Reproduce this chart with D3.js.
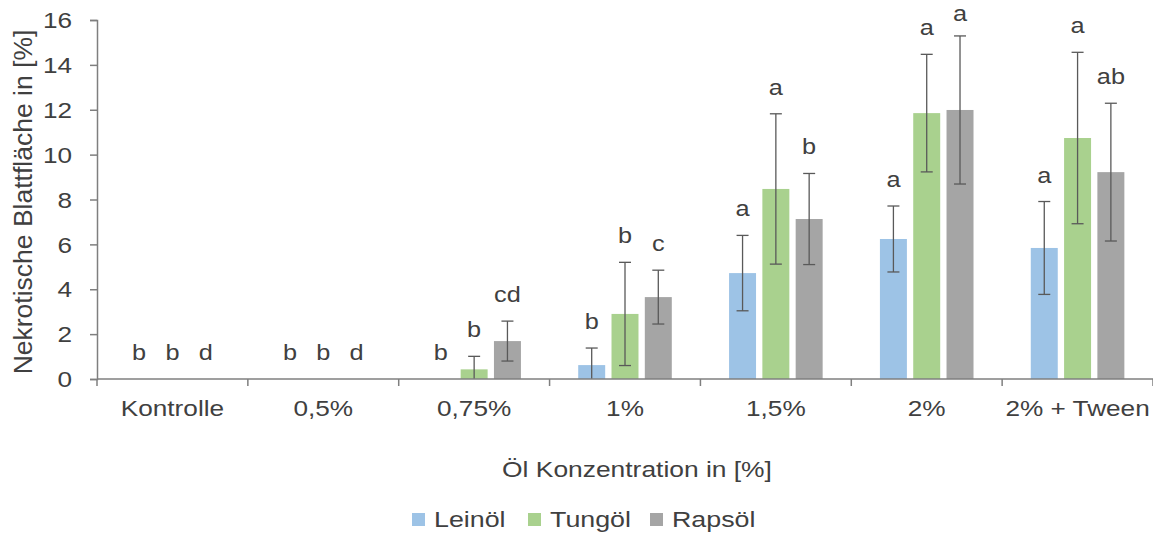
<!DOCTYPE html>
<html>
<head>
<meta charset="utf-8">
<script src="https://cdn.jsdelivr.net/npm/d3@7"></script>
<style>
  html, body { margin: 0; padding: 0; background: #fff; }
  svg { display: block; font-family: "Liberation Sans", Arial, sans-serif; }
</style>
</head>
<body>
<svg id="chart" width="1153" height="533"></svg>
<script>
// Necrotic leaf area by oil concentration, three oils, mean ± SD with significance letters
const categories = ["Kontrolle", "0,5%", "0,75%", "1%", "1,5%", "2%", "2% + Tween"];
const seriesNames = ["Leinöl", "Tungöl", "Rapsöl"];

const leinoelMean = [0, 0, 0, 0.62, 4.72, 6.24, 5.84];
const leinoelErr  = [0, 0, 0, 0.76, 1.68, 1.47, 2.07];
const leinoelSig  = ["b", "b", "b", "b", "a", "a", "a"];

const tungoelMean = [0, 0, 0.43, 2.90, 8.47, 11.85, 10.74];
const tungoelErr  = [0, 0, 0.58, 2.30, 3.35, 2.62, 3.82];
const tungoelSig  = ["b", "b", "b", "b", "a", "a", "a"];

const rapsoelMean = [0, 0, 1.69, 3.65, 7.13, 11.99, 9.22];
const rapsoelErr  = [0, 0, 0.89, 1.20, 2.03, 3.30, 3.07];
const rapsoelSig  = ["d", "d", "cd", "c", "b", "a", "ab"];

const yTicks = [0, 2, 4, 6, 8, 10, 12, 14, 16];

const colors = ["#9DC3E6", "#A9D18E", "#A5A5A5"];
const textColor = "#404040";
const axisColor = "#7F7F7F";
const fontSize = 22;
const stretch = 1.19;   // glyphs are drawn slightly wide

const series = [
  { name: seriesNames[0], mean: leinoelMean, err: leinoelErr, sig: leinoelSig, color: colors[0] },
  { name: seriesNames[1], mean: tungoelMean, err: tungoelErr, sig: tungoelSig, color: colors[1] },
  { name: seriesNames[2], mean: rapsoelMean, err: rapsoelErr, sig: rapsoelSig, color: colors[2] }
];

const svg = d3.select("#chart");
const plotLeft = 97, plotRight = 1153;

const x0 = d3.scaleBand().domain(categories).range([plotLeft, plotRight]).paddingInner(0).paddingOuter(0);
const x1 = d3.scaleBand().domain(seriesNames).range([0, x0.bandwidth()]).paddingInner(0.19).paddingOuter(0.86);
const y = d3.scaleLinear().domain([0, 16]).range([379, 20]);

// helper: horizontally stretched text anchored at (x, y)
function wideText(sel, x, yPos, sx) {
  return sel.attr("x", 0).attr("y", 0)
    .attr("transform", (d, i, n) => {
      const xx = typeof x === "function" ? x(d, i, n) : x;
      const yy = typeof yPos === "function" ? yPos(d, i, n) : yPos;
      return `translate(${xx},${yy}) scale(${sx},1)`;
    });
}

const rows = series.flatMap(s => categories.map((c, i) => ({
  cat: c, name: s.name, color: s.color, v: s.mean[i], e: s.err[i], sig: s.sig[i]
})));
const cx = d => x0(d.cat) + x1(d.name) + x1.bandwidth() / 2;

// Bars
svg.append("g").selectAll("rect")
  .data(rows.filter(d => d.v > 0))
  .join("rect")
  .attr("x", d => x0(d.cat) + x1(d.name))
  .attr("width", x1.bandwidth())
  .attr("y", d => y(d.v))
  .attr("height", d => y(0) - y(d.v))
  .attr("fill", d => d.color);

// Error bars
const eb = svg.append("g").attr("stroke", "#595959").attr("stroke-width", 1.3).attr("fill", "none");
const withErr = rows.filter(d => d.e > 0);
eb.selectAll("line.v").data(withErr).join("line")
  .attr("x1", cx).attr("x2", cx)
  .attr("y1", d => y(d.v + d.e)).attr("y2", d => y(Math.max(0, d.v - d.e)));
eb.selectAll("line.top").data(withErr).join("line")
  .attr("x1", d => cx(d) - 6).attr("x2", d => cx(d) + 6)
  .attr("y1", d => y(d.v + d.e)).attr("y2", d => y(d.v + d.e));
eb.selectAll("line.bot").data(withErr.filter(d => d.v - d.e > 0)).join("line")
  .attr("x1", d => cx(d) - 6).attr("x2", d => cx(d) + 6)
  .attr("y1", d => y(d.v - d.e)).attr("y2", d => y(d.v - d.e));

// Significance letters
wideText(
  svg.append("g").selectAll("text").data(rows).join("text"),
  cx, d => Math.max(21, y(d.v + d.e) - 19), 1.15)
  .attr("text-anchor", "middle")
  .attr("font-size", fontSize)
  .attr("fill", textColor)
  .text(d => d.sig);

// Y axis
const yAxis = d3.axisLeft(y).tickValues(yTicks).tickSize(7).tickFormat(d3.format("d"));
const gy = svg.append("g").attr("transform", `translate(${plotLeft},0)`).call(yAxis);
gy.select(".domain").attr("stroke", axisColor).attr("stroke-width", 1.5);
gy.selectAll(".tick line").attr("stroke", axisColor).attr("stroke-width", 1.5);
gy.selectAll(".tick text")
  .attr("font-size", fontSize).attr("fill", textColor).attr("font-family", null)
  .attr("x", 0).attr("dy", "0.35em")
  .attr("transform", `translate(-25,0) scale(${stretch},1)`);

// X axis with ticks at category boundaries
const gx = svg.append("g").attr("transform", `translate(0,${y(0)})`);
gx.append("line").attr("x1", plotLeft).attr("x2", plotRight)
  .attr("stroke", axisColor).attr("stroke-width", 1.5);
const bounds = categories.map(c => x0(c)).concat([x0(categories[categories.length - 1]) + x0.bandwidth()]);
gx.selectAll("line.tk").data(bounds).join("line")
  .attr("x1", d => d).attr("x2", d => d).attr("y1", 0).attr("y2", 7)
  .attr("stroke", axisColor).attr("stroke-width", 1.5);
wideText(gx.selectAll("text").data(categories).join("text"),
  d => Math.min(x0(d) + x0.bandwidth() / 2, 1153 - 75), 37, stretch)
  .attr("text-anchor", "middle")
  .attr("font-size", fontSize)
  .attr("fill", textColor)
  .text(d => d);

// Axis titles
svg.append("text")
  .attr("transform", "translate(32,202) rotate(-90)")
  .attr("text-anchor", "middle")
  .attr("font-size", 26.5)
  .attr("fill", textColor)
  .text("Nekrotische Blattfläche in [%]");

wideText(svg.append("text"), 637, 477, 1.2)
  .attr("text-anchor", "middle")
  .attr("font-size", fontSize)
  .attr("fill", textColor)
  .text("Öl Konzentration in [%]");

// Legend
const legendX = [412, 528, 650];
const lg = svg.append("g").selectAll("g").data(series).join("g")
  .attr("transform", (d, i) => `translate(${legendX[i]},513)`);
lg.append("rect").attr("width", 13).attr("height", 13).attr("fill", d => d.color);
wideText(lg.append("text"), 22, 14, 1.22)
  .attr("font-size", fontSize).attr("fill", textColor)
  .text(d => d.name);
</script>
</body>
</html>
